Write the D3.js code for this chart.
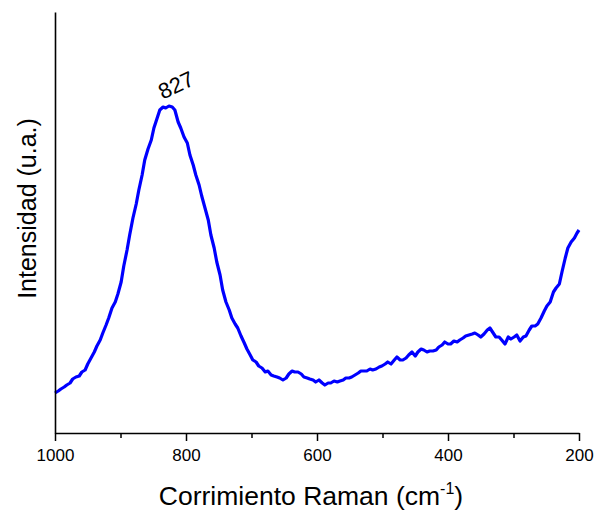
<!DOCTYPE html>
<html>
<head>
<meta charset="utf-8">
<script src="https://cdn.jsdelivr.net/npm/d3@7"></script>
<style>
  html, body { margin: 0; padding: 0; background: #fff; }
  svg { display: block; font-family: Arial, "Liberation Sans", sans-serif; }
</style>
</head>
<body>
<svg id="chart" width="596" height="512"></svg>
<script>
// Raman shift (cm-1)
const ramanShift = [1000,995,991,986,982,977,973,968,963,959,954,950,945,940,936,931,927,922,918,913,908,904,899,895,890,886,881,876,872,867,863,858,853,849,844,840,835,831,826,821,817,812,808,803,798,794,789,785,780,776,771,766,762,757,753,748,744,739,734,730,725,721,716,711,707,702,698,693,689,684,679,675,670,666,661,657,652,647,643,638,634,629,624,620,615,611,606,602,597,592,588,583,579,574,569,565,560,556,551,547,542,537,533,528,524,519,515,510,505,501,496,492,487,482,478,473,469,464,460,455,450,446,441,437,432,428,423,418,414,409,405,400,396,391,386,382,377,373,368,363,359,354,350,345,340,336,331,327,322,318,313,308,304,299,295,290,285,281,276,272,267,263,258,253,249,244,239,235,230,226,221,217,212,207,203,200];
// Intensity (a.u.)
const intensity = [40,42,44,46,48,50,54,56,57,61,63,69,75,81,87,93,100,108,115,125,131,139,151,167,183,198,215,229,243,258,273,284,293,305,315,323,326,325,327,326,323,311,305,296,290,278,268,258,248,237,225,213,198,185,171,158,143,131,123,115,109,105,97,90,84,78,73,71,67,65,61,62,58,57,56,55,53,55,59,62,61,61,59,56,55,54,53,51,53,50,48,50,50,52,51,52,53,55,55,56,58,60,62,62,62,64,63,64,66,67,69,71,69,73,76,73,73,75,78,81,77,81,84,83,81,82,82,83,86,88,91,89,89,92,91,93,95,97,98,99,100,98,96,99,103,105,100,96,96,93,89,96,94,96,98,92,96,97,103,107,107,109,115,122,127,131,141,145,149,161,175,185,191,195,200,203];
const xTicks = [1000, 800, 600, 400, 200];
const xMinorTicks = [900, 700, 500, 300];
const peakLabel = "827";
const peakPosition = 827;
const peakIntensity = 327;
const xTitle = "Corrimiento Raman (cm";
const yTitle = "Intensidad (u.a.)";

const data = ramanShift.map((w, i) => ({ w, v: intensity[i] }));

const svg = d3.select("#chart");
const mLeft = 55, mRight = 579, mTop = 12, mBottom = 433;

const x = d3.scaleLinear().domain([1000, 200]).range([mLeft, mRight]);
const y = d3.scaleLinear().domain([0, 421]).range([mBottom, mTop]);

// curve
const line = d3.line().x(d => x(d.w)).y(d => y(d.v));
svg.append("path")
  .datum(data)
  .attr("d", line)
  .attr("fill", "none")
  .attr("stroke", "#0000ff")
  .attr("stroke-width", 3.2)
  .attr("stroke-linejoin", "round");

// x axis
const xAxis = svg.append("g").attr("transform", `translate(0,${mBottom})`)
  .call(d3.axisBottom(x).tickValues(xTicks).tickFormat(d3.format("d")).tickSize(8).tickSizeOuter(0));
xAxis.select(".domain").attr("stroke", "#000").attr("stroke-width", 1.6);
xAxis.selectAll(".tick line").attr("stroke", "#000").attr("stroke-width", 1.5);
xAxis.selectAll(".tick text").attr("font-size", 17).attr("font-family", "Arial, 'Liberation Sans', sans-serif").attr("fill", "#000").attr("dy", "1.0em");

const xMinor = svg.append("g").attr("transform", `translate(0,${mBottom})`)
  .call(d3.axisBottom(x).tickValues(xMinorTicks).tickFormat("").tickSize(5).tickSizeOuter(0));
xMinor.select(".domain").remove();
xMinor.selectAll(".tick line").attr("stroke", "#000").attr("stroke-width", 1.5);

// y axis (no ticks)
const yAxis = svg.append("g").attr("transform", `translate(${mLeft},0)`)
  .call(d3.axisLeft(y).tickValues([]).tickSizeOuter(0));
yAxis.select(".domain").attr("stroke", "#000").attr("stroke-width", 1.6);

// axis titles
const xt = svg.append("text")
  .attr("x", 311)
  .attr("y", 505)
  .attr("text-anchor", "middle")
  .attr("font-size", 26.5)
  .attr("fill", "#000");
xt.append("tspan").text(xTitle);
xt.append("tspan").attr("font-size", 16).attr("dy", -11).text("-1");
xt.append("tspan").attr("dy", 11).text(")");

svg.append("text")
  .attr("transform", `translate(36,${(mTop + mBottom) / 2 - 14}) rotate(-90)`)
  .attr("text-anchor", "middle")
  .attr("font-size", 25)
  .attr("fill", "#000")
  .text(yTitle);

// peak annotation
svg.append("text")
  .attr("transform", `translate(${x(peakPosition) + 11},${y(peakIntensity) - 14}) rotate(-25)`)
  .attr("text-anchor", "middle")
  .attr("font-size", 22)
  .attr("fill", "#000")
  .text(peakLabel);
</script>
</body>
</html>
